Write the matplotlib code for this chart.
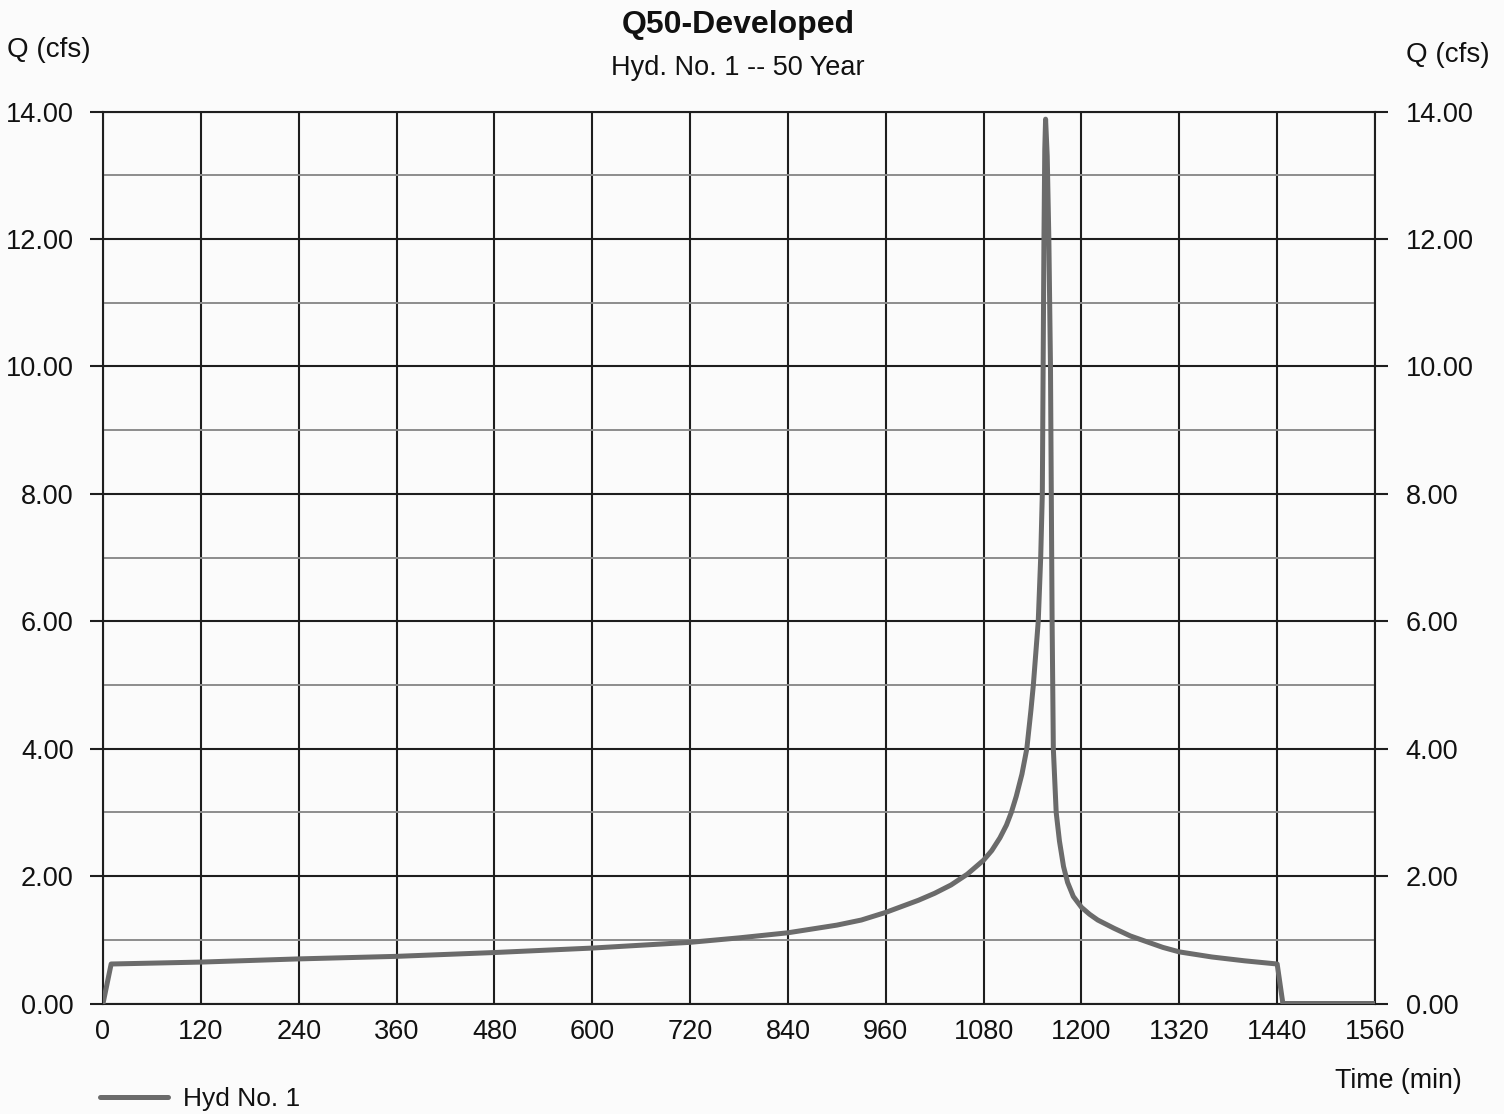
import matplotlib
matplotlib.use("Agg")
import matplotlib.pyplot as plt
from matplotlib.ticker import MultipleLocator, FormatStrFormatter

plt.rcParams['font.family'] = ['Liberation Sans', 'DejaVu Sans']

# Hydrograph ordinates: time (min) and discharge Q (cfs)
time_min = [0, 10, 120, 240, 360, 480, 600, 720, 780, 840, 870, 900, 930,
            960, 1000, 1020, 1040, 1060, 1080, 1090, 1100, 1108, 1114, 1120,
            1127, 1133, 1138, 1141, 1144, 1147, 1150, 1152, 1153, 1154, 1155,
            1156, 1158, 1160, 1162, 1163, 1164, 1165.5, 1169, 1173, 1178,
            1181, 1183, 1190, 1200, 1210, 1220, 1240, 1260, 1280, 1300, 1320,
            1360, 1400, 1440, 1447, 1560]
flow_cfs = [0.00, 0.62, 0.65, 0.70, 0.74, 0.80, 0.87, 0.96, 1.03, 1.11, 1.17,
            1.23, 1.31, 1.43, 1.62, 1.73, 1.86, 2.03, 2.25, 2.40, 2.60, 2.80,
            3.00, 3.25, 3.60, 4.00, 4.60, 5.00, 5.50, 6.00, 7.00, 8.00, 10.00,
            12.00, 13.40, 13.88, 13.30, 12.00, 10.00, 8.00, 6.00, 4.00, 3.00,
            2.55, 2.15, 2.00, 1.90, 1.68, 1.51, 1.40, 1.31, 1.18, 1.06, 0.97,
            0.88, 0.81, 0.73, 0.67, 0.62, 0.00, 0.00]

x_ticks = [0, 120, 240, 360, 480, 600, 720, 840, 960, 1080, 1200, 1320, 1440, 1560]
y_major = [0, 2, 4, 6, 8, 10, 12, 14]

title = "Q50-Developed"
subtitle = "Hyd. No. 1 -- 50 Year"
series_name = "Hyd No. 1"

W, H = 1504, 1114
bg = '#fbfbfb'
ink = '#111111'
fig = plt.figure(figsize=(W / 100, H / 100), dpi=100, facecolor=bg)
ax = fig.add_axes([103 / W, 1 - 1003.5 / H, 1272 / W, 892 / H], facecolor=bg)

line_color = '#6b6b6b'
hyd, = ax.plot(time_min, flow_cfs, color=line_color, lw=3.6,
               solid_joinstyle='round', solid_capstyle='round', zorder=3,
               label=series_name)

ax.set_xlim(0, 1560)
ax.set_ylim(0, 14)
ax.set_xticks(x_ticks)
ax.set_yticks(y_major)
ax.yaxis.set_minor_locator(MultipleLocator(1))
ax.yaxis.set_major_formatter(FormatStrFormatter('%.2f'))

# grid: heavy lines on major divisions, lighter on the odd flow values
ax.grid(True, which='major', axis='both', color='#1e1e1e', lw=1.5, zorder=1)
ax.grid(True, which='minor', axis='y', color='#8c8c8c', lw=1.4, zorder=1)

for s in ax.spines.values():
    s.set_color('#1e1e1e')
    s.set_linewidth(1.5)

tick_fs = 19.5
ax.tick_params(axis='x', which='both', length=0, pad=11, labelsize=tick_fs,
               colors=ink)
ax.tick_params(axis='y', which='major', direction='out', length=9.5,
               width=1.5, color='#1e1e1e', pad=11.5, labelsize=tick_fs,
               labelcolor=ink)
ax.tick_params(axis='y', which='minor', length=0)

# right-hand flow scale
axr = ax.twinx()
axr.set_ylim(0, 14)
axr.set_yticks(y_major)
axr.yaxis.set_major_formatter(FormatStrFormatter('%.2f'))
axr.tick_params(axis='y', which='major', direction='out', length=9.5,
                width=1.5, color='#1e1e1e', pad=12.5, labelsize=tick_fs,
                labelcolor=ink)
for s in axr.spines.values():
    s.set_visible(False)

fig.text(738 / W, 1 - 25 / H, title, ha='center', va='center',
         fontsize=23, fontweight='bold', color=ink)
fig.text(738 / W, 1 - 68 / H, subtitle, ha='center', va='center',
         fontsize=19.5, color=ink)
fig.text(7 / W, 1 - 50 / H, "Q (cfs)", ha='left', va='center',
         fontsize=20, color=ink)
fig.text(1406 / W, 1 - 55 / H, "Q (cfs)", ha='left', va='center',
         fontsize=20, color=ink)
fig.text(1335 / W, 1 - 1081 / H, "Time (min)", ha='left', va='center',
         fontsize=19.3, color=ink)

fig.legend(handles=[hyd], loc='center left',
           bbox_to_anchor=(100 / W, 1 - 1099 / H), frameon=False,
           fontsize=19, handlelength=2.58, handletextpad=0.58,
           borderpad=0, borderaxespad=0, labelcolor=ink)

fig.savefig('out.png', dpi=100, facecolor=bg)
